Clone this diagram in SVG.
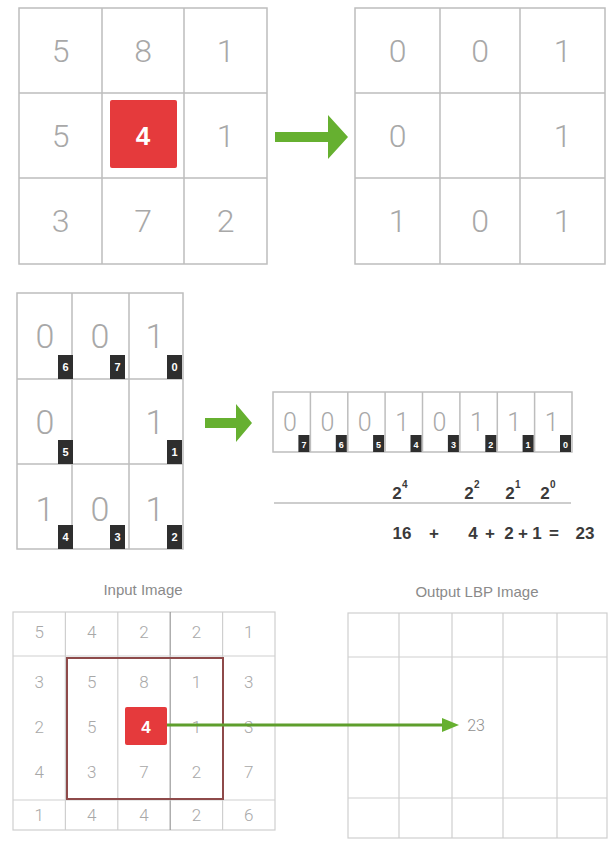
<svg xmlns="http://www.w3.org/2000/svg" width="609" height="841" viewBox="0 0 609 841">
<style>
.g{fill:none;stroke:#bdbdbd;stroke-width:1.5}
.gl{fill:none;stroke:#cfcfcf;stroke-width:1.2}
.d{font-family:Roboto,"Liberation Sans",sans-serif;font-weight:300;fill:#a8a8a8;text-anchor:middle}
.big{font-size:32px}
.mid{font-size:34px}
.st{font-size:25px}
.sm{font-size:17px}
.bx{fill:#2e2e2e}
.bl{font-family:"Liberation Sans",sans-serif;font-weight:bold;fill:#ffffff;text-anchor:middle}
.red{fill:#e53a3c}
.eq{font-family:"Liberation Sans Narrow","Liberation Sans",sans-serif;font-weight:bold;fill:#3a3a3a;text-anchor:middle;font-size:17px}
.sup{font-family:"Liberation Sans Narrow","Liberation Sans",sans-serif;font-weight:bold;fill:#3a3a3a;text-anchor:start;font-size:10px}
.ttl{font-family:"Liberation Sans",sans-serif;fill:#8a8a8a;text-anchor:middle;font-size:15px}
.out{font-family:Roboto,"Liberation Sans",sans-serif;font-weight:300;fill:#909090;text-anchor:middle;font-size:16px}
.arr{fill:#66b030}
</style>
<rect width="609" height="841" fill="#ffffff"/>

<g id="input3x3">
<rect class="g" x="19" y="8" width="248" height="256"/>
<line class="g" x1="102" y1="8" x2="102" y2="264"/>
<line class="g" x1="184" y1="8" x2="184" y2="264"/>
<line class="g" x1="19" y1="93" x2="267" y2="93"/>
<line class="g" x1="19" y1="178" x2="267" y2="178"/>
<rect class="red" x="110" y="100" width="67" height="68" rx="2"/>
<text class="bl" x="143" y="145" font-size="26">4</text>
<text class="d big" x="60.5" y="62">5</text>
<text class="d big" x="143" y="62">8</text>
<text class="d big" x="225.5" y="62">1</text>
<text class="d big" x="60.5" y="147">5</text>
<text class="d big" x="225.5" y="147">1</text>
<text class="d big" x="60.5" y="232">3</text>
<text class="d big" x="143" y="232">7</text>
<text class="d big" x="225.5" y="232">2</text>
</g>

<g id="binary3x3">
<rect class="g" x="355" y="8" width="250" height="256"/>
<line class="g" x1="440" y1="8" x2="440" y2="264"/>
<line class="g" x1="520" y1="8" x2="520" y2="264"/>
<line class="g" x1="355" y1="93" x2="605" y2="93"/>
<line class="g" x1="355" y1="178" x2="605" y2="178"/>
<text class="d big" x="397.5" y="62">0</text>
<text class="d big" x="480" y="62">0</text>
<text class="d big" x="562.5" y="62">1</text>
<text class="d big" x="397.5" y="147">0</text>
<text class="d big" x="562.5" y="147">1</text>
<text class="d big" x="397.5" y="232">1</text>
<text class="d big" x="480" y="232">0</text>
<text class="d big" x="562.5" y="232">1</text>
</g>

<g id="indexed3x3">
<rect class="g" x="17" y="293" width="166" height="256"/>
<line class="g" x1="72" y1="293" x2="72" y2="549"/>
<line class="g" x1="129" y1="293" x2="129" y2="549"/>
<line class="g" x1="17" y1="379" x2="183" y2="379"/>
<line class="g" x1="17" y1="464" x2="183" y2="464"/>
<text class="d mid" x="45" y="348">0</text>
<text class="d mid" x="100" y="348">0</text>
<text class="d mid" x="155" y="348">1</text>
<text class="d mid" x="45" y="434">0</text>
<text class="d mid" x="155" y="434">1</text>
<text class="d mid" x="45" y="521">1</text>
<text class="d mid" x="100" y="521">0</text>
<text class="d mid" x="155" y="521">1</text>
<rect class="bx" x="58" y="355" width="15" height="24"/>
<rect class="bx" x="110" y="355" width="15" height="24"/>
<rect class="bx" x="167" y="355" width="15" height="24"/>
<rect class="bx" x="58" y="440" width="15" height="24"/>
<rect class="bx" x="167" y="440" width="15" height="24"/>
<rect class="bx" x="58" y="525" width="15" height="24"/>
<rect class="bx" x="110" y="525" width="15" height="24"/>
<rect class="bx" x="167" y="525" width="15" height="24"/>
<text class="bl" x="65.5" y="371" font-size="11">6</text>
<text class="bl" x="117.5" y="371" font-size="11">7</text>
<text class="bl" x="174.5" y="371" font-size="11">0</text>
<text class="bl" x="65.5" y="456" font-size="11">5</text>
<text class="bl" x="174.5" y="456" font-size="11">1</text>
<text class="bl" x="65.5" y="541" font-size="11">4</text>
<text class="bl" x="117.5" y="541" font-size="11">3</text>
<text class="bl" x="174.5" y="541" font-size="11">2</text>
</g>

<g id="bitstring">
<rect class="g" x="273" y="392" width="299" height="60"/>
<line class="g" x1="310.4" y1="392" x2="310.4" y2="452"/>
<line class="g" x1="347.8" y1="392" x2="347.8" y2="452"/>
<line class="g" x1="385.1" y1="392" x2="385.1" y2="452"/>
<line class="g" x1="422.5" y1="392" x2="422.5" y2="452"/>
<line class="g" x1="459.9" y1="392" x2="459.9" y2="452"/>
<line class="g" x1="497.3" y1="392" x2="497.3" y2="452"/>
<line class="g" x1="534.6" y1="392" x2="534.6" y2="452"/>
<text class="d st" x="290" y="431">0</text>
<text class="d st" x="327.4" y="431">0</text>
<text class="d st" x="364.8" y="431">0</text>
<text class="d st" x="402.1" y="431">1</text>
<text class="d st" x="439.5" y="431">0</text>
<text class="d st" x="476.9" y="431">1</text>
<text class="d st" x="514.3" y="431">1</text>
<text class="d st" x="551.6" y="431">1</text>
<rect class="bx" x="298.4" y="435" width="11" height="17"/>
<rect class="bx" x="335.8" y="435" width="11" height="17"/>
<rect class="bx" x="373.1" y="435" width="11" height="17"/>
<rect class="bx" x="410.5" y="435" width="11" height="17"/>
<rect class="bx" x="447.9" y="435" width="11" height="17"/>
<rect class="bx" x="485.3" y="435" width="11" height="17"/>
<rect class="bx" x="522.6" y="435" width="11" height="17"/>
<rect class="bx" x="560" y="435" width="11" height="17"/>
<text class="bl" x="303.9" y="447.5" font-size="9">7</text>
<text class="bl" x="341.3" y="447.5" font-size="9">6</text>
<text class="bl" x="378.6" y="447.5" font-size="9">5</text>
<text class="bl" x="416" y="447.5" font-size="9">4</text>
<text class="bl" x="453.4" y="447.5" font-size="9">3</text>
<text class="bl" x="490.8" y="447.5" font-size="9">2</text>
<text class="bl" x="528.1" y="447.5" font-size="9">1</text>
<text class="bl" x="565.5" y="447.5" font-size="9">0</text>
</g>

<g id="sum">
<text class="eq" x="397" y="499">2</text><text class="sup" x="402" y="488">4</text>
<text class="eq" x="469" y="499">2</text><text class="sup" x="474" y="488">2</text>
<text class="eq" x="510" y="499">2</text><text class="sup" x="515" y="488">1</text>
<text class="eq" x="545" y="499">2</text><text class="sup" x="550" y="488">0</text>
<line x1="274" y1="503" x2="571" y2="503" stroke="#bdbdbd" stroke-width="1.5"/>
<text class="eq" x="402" y="539">16</text>
<text class="eq" x="434" y="539">+</text>
<text class="eq" x="473" y="539">4</text>
<text class="eq" x="490" y="539">+</text>
<text class="eq" x="509" y="539">2</text>
<text class="eq" x="523" y="539">+</text>
<text class="eq" x="537" y="539">1</text>
<text class="eq" x="554" y="539">=</text>
<text class="eq" x="585" y="539">23</text>
</g>

<g id="inputImage">
<text class="ttl" x="143" y="595">Input Image</text>
<rect class="gl" x="13" y="612" width="262" height="218"/>
<line class="gl" x1="65.4" y1="612" x2="65.4" y2="830"/>
<line class="gl" x1="117.8" y1="612" x2="117.8" y2="830"/>
<line x1="170.2" y1="612" x2="170.2" y2="830" stroke="#9a9a9a" stroke-width="1.2"/>
<line class="gl" x1="222.6" y1="612" x2="222.6" y2="830"/>
<line class="gl" x1="13" y1="656" x2="275" y2="656"/>
<line class="gl" x1="13" y1="800" x2="275" y2="800"/>
<g class="d sm">
<text x="39.2" y="638">5</text><text x="91.6" y="638">4</text><text x="144" y="638">2</text><text x="196.4" y="638">2</text><text x="248.8" y="638">1</text>
<text x="39.2" y="688">3</text><text x="91.6" y="688">5</text><text x="144" y="688">8</text><text x="196.4" y="688">1</text><text x="248.8" y="688">3</text>
<text x="39.2" y="733">2</text><text x="91.6" y="733">5</text><text x="196.4" y="733">1</text><text x="248.8" y="733">3</text>
<text x="39.2" y="778">4</text><text x="91.6" y="778">3</text><text x="144" y="778">7</text><text x="196.4" y="778">2</text><text x="248.8" y="778">7</text>
<text x="39.2" y="821">1</text><text x="91.6" y="821">4</text><text x="144" y="821">4</text><text x="196.4" y="821">2</text><text x="248.8" y="821">6</text>
</g>
<rect x="67" y="658" width="156" height="141" fill="none" stroke="#8e4a4a" stroke-width="2"/>
<rect class="red" x="125" y="707" width="42" height="38" rx="2"/>
<text class="bl" x="146" y="733" font-size="17">4</text>
</g>

<g id="outputImage">
<text class="ttl" x="477" y="597">Output LBP Image</text>
<rect class="gl" x="348" y="613" width="259" height="225"/>
<line class="gl" x1="399" y1="613" x2="399" y2="838"/>
<line class="gl" x1="452" y1="613" x2="452" y2="838"/>
<line class="gl" x1="503" y1="613" x2="503" y2="838"/>
<line class="gl" x1="557" y1="613" x2="557" y2="838"/>
<line class="gl" x1="348" y1="657" x2="607" y2="657"/>
<line class="gl" x1="348" y1="798" x2="607" y2="798"/>
<text class="out" x="476" y="731">23</text>
</g>

<g id="connectors">
<path class="arr" d="M275,132 L328,132 L328,115 L348,137 L328,159 L328,142 L275,142 Z"/>
<path class="arr" d="M205,418 L236,418 L236,404 L252,423 L236,442 L236,428 L205,428 Z"/>
<line x1="167" y1="725" x2="446" y2="725" stroke="#5e9e2c" stroke-width="3"/>
<path class="arr" d="M442,718 L459,725 L442,732 Z"/>
</g>
</svg>
